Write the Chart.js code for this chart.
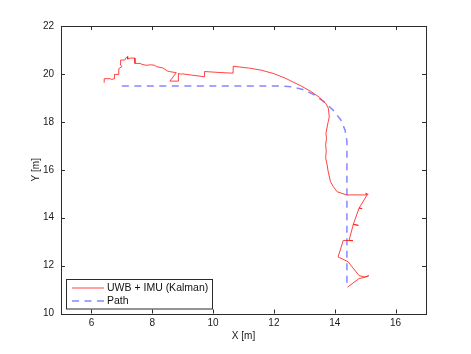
<!DOCTYPE html>
<html>
<head>
<meta charset="utf-8">
<script src="https://cdn.jsdelivr.net/npm/chart.js@4"></script>
<style>
  html, body { margin: 0; padding: 0; background: #fff; }
  canvas { display: block; }
</style>
</head>
<body>
<canvas id="chart" width="471" height="354"></canvas>
<script>
// tick labels
const xTicks = [6, 8, 10, 12, 14, 16];
const yTicks = [10, 12, 14, 16, 18, 20, 22];

// UWB + IMU (Kalman) trace
const kalmanX = [6.42, 6.42, 6.62, 6.66, 6.76, 6.76, 6.90, 6.90, 7.00, 6.94, 6.96, 7.10, 7.14, 7.20, 7.19, 7.28, 7.43, 7.43,
  7.60, 7.66, 7.80, 7.95, 8.08, 8.15, 8.35, 8.50, 8.56, 8.79, 8.58, 8.86, 8.86, 8.95, 9.00, 9.30, 9.72, 9.72, 10.20, 10.66,
  10.66, 11.20, 11.57, 11.98, 12.36, 12.86, 13.20, 13.50, 13.70, 13.79, 13.82, 13.78, 13.71, 13.73, 13.70, 13.72, 13.70,
  13.75, 13.78, 13.86, 13.95, 14.08, 14.39, 15.05, 15.10, 15.02, 15.05, 14.80, 14.90, 14.80, 14.61, 14.78, 14.61, 14.47,
  14.60, 14.28, 14.11, 14.44, 14.80, 15.00, 15.12, 14.95, 14.80, 14.42];
const kalmanY = [19.63, 19.80, 19.80, 19.77, 19.80, 19.98, 19.98, 20.22, 20.30, 20.42, 20.58, 20.58, 20.68, 20.72, 20.62, 20.66, 20.66, 20.44,
  20.44, 20.40, 20.36, 20.38, 20.36, 20.30, 20.25, 20.12, 20.10, 20.05, 19.70, 19.70, 20.02, 19.99, 20.00, 19.95, 19.88, 20.10, 20.06, 20.03,
  20.32, 20.24, 20.16, 20.02, 19.83, 19.52, 19.28, 19.02, 18.78, 18.56, 18.20, 17.98, 17.52, 17.30, 17.05, 16.80, 16.50,
  16.20, 15.95, 15.50, 15.30, 15.08, 14.95, 14.95, 14.97, 15.02, 14.92, 14.40, 14.38, 14.40, 13.72, 13.68, 13.72, 13.05,
  13.04, 13.05, 12.36, 12.16, 11.58, 11.52, 11.58, 11.50, 11.46, 11.10];

// reference path
const pathX = [7.0, 12.2, 12.6, 12.95, 13.3, 13.62, 13.95, 14.2, 14.34, 14.4, 14.4];
const pathY = [19.5, 19.5, 19.46, 19.35, 19.15, 18.86, 18.49, 18.08, 17.65, 17.2, 11.1];

const toPoints = (xs, ys) => xs.map((x, i) => ({ x: x, y: ys[i] }));

const FONT = "'Liberation Sans', Arial, Helvetica, sans-serif";
const AXIS_COLOR = '#2b2b2b';

// MATLAB style box with inward ticks plus a legend in the lower left
const matlabAxes = {
  id: 'matlabAxes',
  afterDraw(chart) {
    const { ctx, chartArea: a, scales } = chart;
    ctx.save();
    ctx.strokeStyle = AXIS_COLOR;
    ctx.lineWidth = 1;
    ctx.beginPath();
    xTicks.forEach(v => {
      const px = Math.round(scales.x.getPixelForValue(v)) + 0.5;
      ctx.moveTo(px, a.bottom); ctx.lineTo(px, a.bottom - 4);
      ctx.moveTo(px, a.top); ctx.lineTo(px, a.top + 4);
    });
    yTicks.forEach(v => {
      const py = Math.round(scales.y.getPixelForValue(v)) + 0.5;
      ctx.moveTo(a.left, py); ctx.lineTo(a.left + 4, py);
      ctx.moveTo(a.right, py); ctx.lineTo(a.right - 4, py);
    });
    ctx.stroke();
    ctx.strokeRect(Math.round(a.left) + 0.5, Math.round(a.top) + 0.5,
      Math.round(a.right - a.left), Math.round(a.bottom - a.top));

    // legend
    const lx = 66.5, ly = 279.5, lw = 146, lh = 29.5;
    ctx.fillStyle = '#fff';
    ctx.fillRect(lx, ly, lw, lh);
    ctx.strokeRect(lx, ly, lw, lh);
    ctx.font = '10.5px ' + FONT;
    ctx.textBaseline = 'middle';
    chart.data.datasets.forEach((ds, i) => {
      const y = 288 + i * 13;
      ctx.save();
      ctx.strokeStyle = ds.borderColor;
      ctx.lineWidth = ds.borderWidth;
      ctx.setLineDash(ds.borderDash || []);
      ctx.beginPath();
      ctx.moveTo(72, y); ctx.lineTo(104, y);
      ctx.stroke();
      ctx.restore();
      ctx.fillStyle = '#111';
      ctx.fillText(ds.label, 107, y);
    });
    ctx.restore();
  }
};

new Chart(document.getElementById('chart'), {
  type: 'scatter',
  data: {
    datasets: [
      {
        label: 'UWB + IMU (Kalman)',
        data: toPoints(kalmanX, kalmanY),
        showLine: true,
        borderColor: 'rgba(255, 20, 20, 0.8)',
        borderWidth: 1,
        pointRadius: 0,
        tension: 0
      },
      {
        label: 'Path',
        data: toPoints(pathX, pathY),
        showLine: true,
        borderColor: 'rgba(70, 70, 255, 0.65)',
        borderWidth: 1.5,
        borderDash: [7, 5.5],
        pointRadius: 0,
        tension: 0
      }
    ]
  },
  options: {
    responsive: false,
    animation: false,
    devicePixelRatio: 1,
    layout: { padding: { top: 26, right: 45, left: 0, bottom: 0 } },
    plugins: { legend: { display: false }, tooltip: { enabled: false } },
    scales: {
      x: {
        type: 'linear',
        min: 5, max: 17,
        afterBuildTicks: s => { s.ticks = xTicks.map(v => ({ value: v })); },
        afterFit: s => { s.height = 40.5; },
        grid: { display: false, drawTicks: false },
        border: { display: false },
        ticks: { autoSkip: false, maxRotation: 0, padding: 4, color: '#1a1a1a', font: { family: FONT, size: 10 } },
        title: { display: true, text: 'X [m]', color: '#1a1a1a', padding: { top: 0, bottom: 11.5 }, font: { family: FONT, size: 10 } }
      },
      y: {
        type: 'linear',
        min: 10, max: 22,
        afterBuildTicks: s => { s.ticks = yTicks.map(v => ({ value: v })); },
        afterFit: s => { s.width = 61; },
        grid: { display: false, drawTicks: false },
        border: { display: false },
        ticks: { autoSkip: false, padding: 7, color: '#1a1a1a', font: { family: FONT, size: 10 } },
        title: { display: true, text: 'Y [m]', color: '#1a1a1a', padding: { top: 30.7, bottom: 0 }, font: { family: FONT, size: 10 } }
      }
    }
  },
  plugins: [matlabAxes]
});
</script>
</body>
</html>
